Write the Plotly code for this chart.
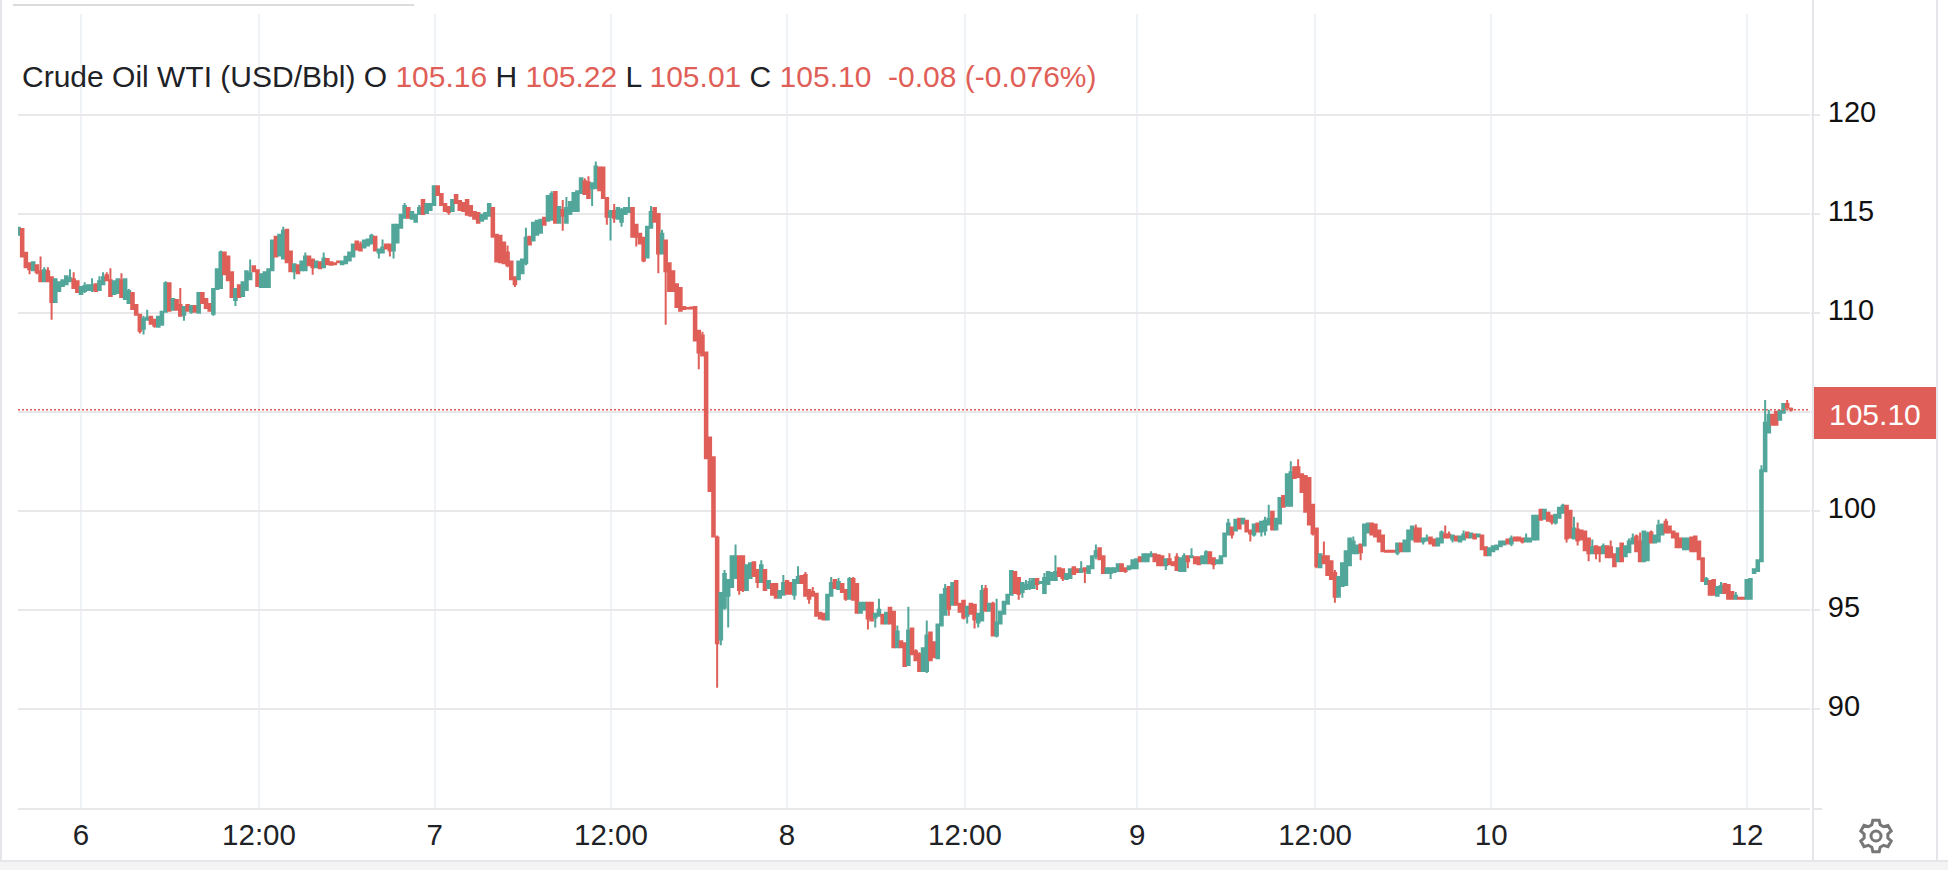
import math
import plotly.graph_objects as go

title_text = "Crude Oil WTI (USD/Bbl)"
last_open, last_high, last_low, last_close, last_chg, last_pct = "105.16", "105.22", "105.01", "105.10", "-0.08", "(-0.076%)"

opens = [
113.95,114.23,113.03,112.5,112.15,112.4,112.1,111.6,112.1,111.8,
110.55,111.1,111.35,111.45,111.6,111.7,111.6,110.95,111.1,111.15,
111.15,111.45,111.15,111.45,111.9,111.65,110.95,111,111.65,110.7,
110.5,111,110.4,109.9,109.2,109.65,109.8,109.65,109.3,109.4,
110.05,111.5,110.15,110.65,110.4,109.9,110.4,110.05,110.35,110,
111,110.7,110.45,109.95,111.2,111.25,113.05,112.85,112.05,110.65,
111.4,110.85,111.15,111.7,112.35,112.15,111.3,111.3,111.3,112.15,
113.85,112.9,112.75,114.2,113.1,112.1,112.4,112.15,112.15,112.85,
112.7,112.3,112.55,112.3,112.72,112.55,112.5,112.6,112.45,112.5,
112.65,112.85,113.6,113.45,113.3,113.4,113.5,113.85,113.05,113.05,
113.45,113.45,113.15,113.55,114.3,114.8,115.3,114.75,114.6,115,
115.7,115.05,115.2,115.45,116.4,116,115.5,115.35,115.15,115.95,
115.65,115.55,115.7,115.4,115.1,115.05,114.65,114.75,114.9,115.3,
113.95,113.9,113.55,113.05,112.6,111.8,111.7,112,112.5,113.85,
113.65,113.95,114.05,114.8,114.65,114.7,116.1,114.55,115.2,114.55,
115,115.15,115.15,116.05,116.65,116.6,116.3,116.3,117.35,117.35,
115.8,114.85,115.15,114.75,114.6,115,115.1,115.3,114.45,114,
113.8,112.8,114.3,115.3,115,113,113.65,112.5,112.1,111.45,
111.25,110.3,110.25,110.27,110.3,109.1,108.85,108,103.7,102.7,
98.65,93.5,95.1,95.7,96.15,96.6,97.7,97.7,96,96.6,
97.4,97,96.4,97,96.1,96.3,96.3,95.6,95.75,96.45,
96.35,95.75,96.35,96.7,96.75,96,95.9,95.8,94.85,94.8,
94.5,95.7,96.5,96.05,96.3,96,95.55,96.55,96.3,94.85,
95,95.35,95.35,94.6,94.7,94.75,94.3,95.1,94.9,93.1,
93.4,93.3,92.2,94.05,92.9,92.75,91.9,91.9,93.85,93.35,
92.55,94.2,94.75,96.15,95.25,96.45,95.3,95.45,94.7,95.3,
95.25,94.35,94.45,96.05,94.95,95.3,93.7,94.3,94.8,95.3,
95.75,96.9,96.6,95.9,96.05,96.1,96.1,96.55,96.35,95.85,
96.3,96.5,96.5,97.1,97.05,96.55,96.6,97.15,97.05,96.9,
97.1,96.85,97.1,97.7,98.1,97.7,96.85,96.85,96.9,96.95,
97.3,97.1,97.05,97.1,97.1,97.65,97.45,97.45,97.7,97.8,
97.75,97.7,97.25,97.55,97.4,97.65,96.95,96.95,97.7,97.65,
97.65,97.65,97.35,97.35,97.9,97.6,97.35,97.35,97.7,98.8,
99.15,99,99.6,99.35,99.5,99,98.8,99.35,98.95,99,
99.3,99.95,99.05,99.35,100.75,100.25,100.25,102.2,102.2,101.85,
101.75,101.65,100.3,99.1,97.15,97.7,97.7,97.45,96.85,95.65,
96.2,96.25,97.25,97.85,97.85,98.3,98.25,98.9,99.35,99.3,
99,98.75,97.98,97.98,97.98,97.88,98.35,97.95,97.95,98.55,
99.1,99.1,98.45,98.5,98.65,98.55,98.25,98.4,98.8,98.8,
98.55,98.7,98.45,98.55,98.9,98.65,98.8,98.7,98.75,98.15,
97.75,97.95,98.05,98.2,98.3,98.55,98.35,98.65,98.65,98.6,
98.45,98.45,98.55,98.55,100.05,99.6,99.9,99.75,99.4,99.65,
99.9,100.25,100,98.6,99.05,99,98.95,98.6,97.85,98.2,
98.15,97.85,98.2,98.15,97.8,97.45,98.35,97.7,97.9,98.35,
98.7,98.45,97.45,97.5,98.9,98.4,98.45,98.8,99.45,99.2,
98.95,98.85,98.6,98.05,98.05,98.65,98.7,98.45,97.6,96.3,
96.45,96.5,95.7,95.85,96.3,96.25,95.9,95.55,95.6,95.6,
95.55,95.55,96.85,96.95,97.45,102,103.95,104.85,105,104.6,104.95,105.4,105.16,
]

closes = [
114.3,112.85,112.3,112.2,112.55,112.05,111.6,112.15,111.6,110.55,
111.7,111.55,111.65,111.85,111.75,111.25,111.05,111.3,111.35,111.4,
111.4,111.1,111.6,111.8,111.65,110.85,111.6,111.7,110.8,111.7,
111.1,110.2,109.9,109.1,109.7,109.75,109.45,109.35,109.8,110.05,
111.5,110.1,110.7,110.15,109.85,110.3,110.1,110.35,110.05,111,
110.5,110.25,110.1,111.2,112.2,113.05,111.95,111.65,110.8,111.2,
110.8,111.55,112.1,112,112.1,111.35,111.95,112.05,112.2,113.65,
112.85,113.95,114.15,112.55,112.1,112.45,112,112.6,112.85,112.4,
112.3,112.6,112.25,112.75,112.45,112.43,112.45,112.55,112.6,112.83,
113.05,113.45,113.2,113.15,113.65,113.7,113.9,113.15,113.2,113.3,
113.25,113.15,114.45,114.45,114.95,115.4,114.8,115.1,114.95,115.3,
115,115.5,115.5,116.4,115.95,115.45,115.15,115.1,115.7,115.55,
115.2,115.15,114.95,114.9,114.75,114.55,114.95,115.05,115.5,113.85,
112.6,112.55,112.5,112.4,111.7,111.45,112.6,112.7,113.8,113.45,
114.55,114.65,114.7,114.45,115.9,116,114.55,115.35,114.9,115.3,
115.6,116.05,116.15,116.8,116,115.8,116.55,117.4,116.2,115.8,
114.85,115.15,114.8,115.3,115.2,115.3,115.3,113.85,113.85,113.5,
112.65,114.35,115.1,114.6,113,114,112.1,111.1,111.1,110.3,
110.1,110.2,110.22,110.22,108.6,108,107.85,102.65,101,98.7,
93.3,95.85,96.8,96.5,97.7,97.7,96,96,97.25,97.35,
96.7,96.4,97.25,96,96.45,95.75,95.6,95.95,96.35,95.8,
95.8,96.5,96.65,96.35,95.7,95.55,95.7,94.7,94.55,94.5,
95.75,96.35,96.1,96.4,95.9,95.55,96.55,95.5,94.85,95.35,
95.35,94.55,94.45,94.8,95,94.3,94.85,94.3,93.1,93.9,
93.1,92.15,93.95,92.75,92.45,91.9,93.05,93.7,92.45,92.6,
94.25,95.75,96.05,95.05,96.35,95.25,94.9,94.6,95.15,94.8,
94.5,94.8,95.95,94.95,95.3,93.7,94.35,94.9,95.4,95.75,
96.95,95.85,95.8,96.35,96.25,96.4,96.55,96.3,96.4,96.6,
96.9,96.85,96.9,96.7,96.6,96.8,97.05,96.8,96.9,97.05,
96.95,97.2,97.7,97.95,97.55,96.85,97.1,97.1,97.1,97.3,
96.95,96.95,97.2,97.5,97.55,97.45,97.8,97.8,97.8,97.45,
97.25,97.25,97.55,97.3,97.25,97,97.6,97.7,97.45,97.7,
97.35,97.3,97.7,97.9,97.35,97.3,97.5,97.7,98.85,99.35,
98.8,99.55,99.1,99.6,98.95,98.85,99.3,98.95,99.45,99.5,
99.6,99.05,99.6,100.65,100.2,101.85,101.95,101.65,101.7,100.95,
99.95,99.3,98.85,97.2,97.8,97.35,96.75,96.55,95.65,96.65,
97.35,97.95,98.6,98.45,98.25,97.9,99.3,99.35,98.8,98.7,
98.45,97.95,97.93,97.93,97.93,98.35,97.95,98.5,99,99.2,
98.45,98.45,98.6,98.6,98.35,98.25,98.6,98.9,98.65,98.65,
98.75,98.5,98.7,98.8,98.65,98.85,98.6,98.8,98.05,97.75,
98.1,98.2,98.25,98.45,98.45,98.35,98.6,98.5,98.5,98.45,
98.6,98.6,99.75,99.75,99.55,100.05,99.5,99.45,99.8,100.15,
100.25,98.6,98.65,99.1,98.5,98.55,98,97.85,98.15,97.85,
97.85,98.2,97.65,97.65,97.2,98.1,97.45,98.2,98.45,98.6,
97.95,97.45,98.95,98.85,98.4,98.75,99.25,99.3,98.9,98.9,
98.65,98.15,98.15,98.6,98.6,97.95,97.95,97.55,96.45,96.55,
95.75,95.75,96.15,96.2,95.85,95.55,95.55,95.7,95.55,95.55,
96.5,96.55,97.05,97.5,102.05,104.45,104.85,104.35,104.35,105.05,105.4,105.2,105.1,
]

highs = [
114.33,114.23,113.05,112.5,112.6,112.45,112.85,112.3,112.3,111.85,
111.75,111.6,111.7,111.9,112.2,112.05,111.65,111.35,111.55,111.45,
111.75,111.5,111.85,112.05,112.05,112.25,111.65,111.75,112,111.75,
111.2,111.05,110.45,109.95,109.85,110.15,109.85,109.7,109.85,110.1,
111.6,111.55,110.75,110.7,111.25,110.35,110.45,110.4,110.4,111.05,
111.05,110.75,110.5,111.25,112.25,113.15,113.1,112.9,112.1,111.25,
111.45,111.6,112.15,112.7,112.4,112.2,112,112.1,112.25,113.7,
113.9,114,114.35,114.25,113.15,112.5,112.45,112.65,113.05,112.9,
112.72,112.65,112.6,113.05,112.75,112.58,112.52,112.62,112.65,112.85,
113.1,113.5,113.65,113.6,113.7,113.75,114,113.9,113.25,113.7,
113.5,113.5,114.5,114.5,115,115.55,115.35,115.15,115,115.45,
115.7,115.55,115.55,116.45,116.42,116.05,115.55,115.4,115.75,116,
115.7,115.6,115.72,115.45,115.15,115.1,115,115.1,115.55,115.35,
114,113.95,113.6,113.4,112.65,111.85,112.65,112.75,114.3,113.9,
114.6,114.7,114.75,114.85,115.95,116.15,116.15,115.4,115.7,115.85,
115.65,116.1,116.2,116.85,116.8,116.9,116.6,117.65,117.4,117.4,
115.85,115.2,115.5,115.35,115.3,115.35,115.85,115.35,114.5,114.05,
113.85,114.4,115.4,115.35,115.05,114.2,113.7,112.55,112.15,111.5,
111.3,110.32,110.3,110.3,110.35,109.15,109.05,108.05,103.75,102.75,
98.75,95.9,97,96.55,97.75,98.3,97.75,97.7,97.3,97.4,
97.45,97.05,97.5,97.05,96.5,96.35,96.35,96,96.75,96.5,
96.4,96.55,97.2,96.75,96.9,96.05,96.15,95.85,94.9,94.85,
95.8,96.65,96.55,96.6,96.35,96.05,96.65,96.65,96.35,95.4,
95.4,95.4,95.4,94.85,95.55,94.8,94.9,95.15,94.95,94.2,
93.45,93.35,95.15,94.1,93,92.85,93.1,94.45,93.9,93.4,
94.3,95.8,96.3,96.2,96.4,96.5,95.35,95.5,95.2,95.35,
95.3,94.85,96.25,96.25,95.35,95.4,95.55,94.95,95.45,95.8,
97,96.95,96.65,96.4,96.5,96.6,96.6,96.6,96.42,96.85,
96.95,96.9,97.75,97.15,97.1,96.85,97.1,97.2,97.1,97.45,
97.15,97.25,97.75,98.3,98.15,97.75,97.15,97.15,97.15,97.35,
97.35,97.15,97.25,97.55,97.6,97.7,97.85,97.85,97.95,97.85,
97.8,97.75,97.6,97.85,97.45,97.85,97.65,97.85,97.75,98.1,
97.7,97.7,97.75,98,97.95,97.65,97.55,97.75,98.9,99.6,
99.2,99.6,99.65,99.65,99.55,99.05,99.35,99.4,99.5,99.7,
100.3,99.95,99.65,100.7,100.8,101.9,102.5,102.25,102.6,101.9,
101.8,101.7,100.35,99.15,97.85,98.45,97.75,97.5,97,96.7,
97.4,98,98.65,98.7,98.3,98.35,99.35,99.4,99.4,99.35,
99.05,98.8,98,98,98,98.4,98.4,98.55,99.05,99.25,
99.3,99.15,98.65,98.8,98.7,98.6,98.65,99,99.25,98.95,
98.8,98.75,98.75,99,98.95,98.9,98.85,98.85,98.8,98.2,
98.15,98.25,98.3,98.5,98.5,98.6,98.75,98.7,98.7,98.65,
98.85,98.65,99.8,99.8,100.1,100.1,99.95,99.8,99.85,100.2,
100.35,100.3,100.05,99.7,99.4,99.05,99,98.65,98.55,98.25,
98.2,98.35,98.25,98.5,97.85,98.15,98.4,98.25,98.6,98.85,
98.8,98.9,99,98.95,99,98.8,99.55,99.35,99.6,99.25,
99,98.9,98.65,98.65,98.65,98.7,98.75,98.5,97.65,96.65,
96.5,96.55,96.2,96.4,96.35,96.3,95.95,95.9,95.63,95.63,
96.55,96.6,97.1,97.55,102.3,105.6,105.1,104.9,105.05,105.1,105.45,105.6,105.22,
]

lows = [
113.93,112.8,112.25,111.95,112.1,111.95,111.55,111.55,111.55,109.65,
110.5,111.05,111.3,111.4,111.55,111.2,111,110.95,111,111.1,
111.05,111.05,111.1,111.4,111.6,110.8,110.9,110.95,110.75,110.65,
110.45,110.15,109.85,108.95,108.9,109.6,109.4,109.25,109.25,109.35,
110,110.05,110.1,110.1,109.8,109.6,110.05,109.95,110,109.95,
110.45,110.2,110.05,109.85,111.15,111.2,111.9,111.6,110.75,110.35,
110.75,110.8,111.1,111.65,112.05,111.3,111.25,111.25,111.25,112.1,
112.8,112.85,112.7,112.5,112.05,111.7,111.95,112.1,112.1,112.35,
111.93,112.25,112.2,112.25,112.4,112.4,112.42,112.52,112.42,112.45,
112.6,112.8,113.15,113.1,113.25,113.35,113.45,113.1,112.75,113,
113.2,112.85,112.75,113.5,114.25,114.75,114.75,114.7,114.55,114.95,
114.95,115,115.15,115.4,115.9,115.4,115.1,114.95,115.1,115.5,
115.15,115.1,114.9,114.85,114.7,114.5,114.6,114.7,114.85,113.8,
112.55,112.5,112.45,112.3,111.65,111.3,111.65,111.95,112.4,113.4,
113.6,113.9,114,114.4,114.6,114.65,114.5,114.5,114.15,114.5,
114.95,115.1,115.1,116,115.95,115.75,115.4,116.25,116.15,115.75,
114.45,113.65,114.55,114.7,114.35,114.95,115.05,113.8,113.35,113.45,
112.55,112.75,114.25,114.55,112,112.95,109.4,111.05,111.05,110.25,
110.05,110.18,110.2,110.2,108.55,107.15,107.8,102.6,100.95,98.65,
91.05,93.2,95,94.1,96.1,96.55,95.75,95.9,95.95,96.55,
96.65,96.1,96.35,95.95,96.05,95.7,95.55,95.55,95.7,95.75,
95.75,95.5,96.3,96.3,95.65,95.3,95.65,94.65,94.5,94.45,
94.45,95.65,96.05,96,95.85,95.45,95.5,95.45,94.8,94.8,
94.95,94,94.4,94.1,94.65,94.25,94.25,94.25,93.05,93.05,
93.05,92.1,92.15,92.7,92.4,91.85,91.85,91.8,92.4,92.55,
92.5,94.15,94.7,94.7,95.2,95.2,94.85,94.5,94.3,94.75,
94.05,94.1,94.4,94.9,94.9,93.65,93.6,94.25,94.75,95.25,
95.7,95.8,95.5,95.6,96,96,96.05,96,96.33,95.8,
96.25,96.45,96.45,96.65,96.45,96.5,96.55,96.75,96.85,96.85,
96.35,96.8,97.05,97.55,97.5,96.8,96.8,96.55,96.85,96.9,
96.9,96.85,97,97.05,97.05,97.4,97.4,97.4,97.65,97.4,
97.2,97.2,97,97.25,97.2,96.95,96.9,96.9,97.1,97.6,
97.3,97.25,97.3,97.3,97.3,97.05,97.3,97.3,97.65,98.75,
98.6,98.95,99.05,99.3,98.9,98.45,98.7,98.9,98.7,98.75,
99.25,99,99,99.3,100.15,100.2,100.2,101.6,101.65,100.9,
99.9,99.25,98.75,97.1,97.1,97.3,96.7,96.5,95.35,95.6,
96.15,96.2,97.2,97.8,97.8,97.5,98.2,98.85,98.75,98.65,
98.4,97.9,97.9,97.9,97.9,97.75,97.9,97.9,97.9,98.5,
98.4,98.4,98.3,98.45,98.3,98.2,98.2,98.35,98.6,98.6,
98.4,98.45,98.4,98.5,98.6,98.6,98.55,98.65,98,97.7,
97.7,97.9,98,98.15,98.25,98.3,98.2,98.45,98.45,98.35,
98.4,98.4,98.5,98.5,99.5,99.55,99.45,99.3,99.3,99.6,
99.85,98.4,98.6,98.55,98.25,98.5,97.95,97.45,97.8,97.55,
97.4,97.8,97.6,97.6,97.15,97.4,97.4,97.65,97.85,98.3,
97.9,97.4,97.4,97.45,98.35,98.35,98.4,98.75,98.85,98.85,
98.6,98.1,98.1,98,98,97.9,97.9,97.5,96.4,96.25,
95.7,95.7,95.65,95.8,95.8,95.5,95.5,95.5,95.5,95.5,
95.5,95.5,96.8,96.9,97.4,101.95,103.9,104.3,104.3,104.55,104.9,105.15,105.01,
]

bar_index = list(range(len(closes)))

x_tick_positions = [17, 65.4, 113.2, 161.1, 209, 257.4, 304.2, 352.6, 400.5, 470.1]
x_tick_labels = ["6", "12:00", "7", "12:00", "8", "12:00", "9", "12:00", "10", "12"]
y_ticks = [90, 95, 100, 105, 110, 115, 120]
y_tick_labels = ["90", "95", "100", "", "110", "115", "120"]

RED = "#DF5F58"
GREEN = "#52A69A"
GRID_H = "#E8E8EA"
GRID_V = "#F0F3F6"
BORDER = "#E6E6EA"
TEXT = "#1E2226"

W, H = 1948, 870
L, R, T, B = 18, 1810, 14, 808


def xp(px):
    return (px - L) / (R - L)


def yp(py):
    return (B - py) / (B - T)


def rect(x0, y0, x1, y1, fill, layer="above"):
    return dict(type="rect", xref="paper", yref="paper", x0=xp(x0), x1=xp(x1), y0=yp(y0), y1=yp(y1),
                fillcolor=fill, line=dict(width=0), layer=layer)


def gear_path(cx, cy, r_out, r_in, teeth=6):
    pts = []
    step = 2 * math.pi / teeth
    for k in range(teeth):
        a = -math.pi / 2 + k * step
        for da, r in ((-0.36, r_in), (-0.2, r_out), (0.2, r_out), (0.36, r_in)):
            pts.append((cx + r * math.cos(a + da), cy + r * math.sin(a + da)))
    return "M " + " L ".join(f"{xp(px):.5f},{yp(py):.5f}" for px, py in pts) + " Z"


def circle_shape(cx, cy, r, color, width):
    return dict(type="circle", xref="paper", yref="paper", x0=xp(cx - r), x1=xp(cx + r), y0=yp(cy + r), y1=yp(cy - r),
                line=dict(color=color, width=width), layer="above")


fig = go.Figure(go.Candlestick(
    x=bar_index, open=opens, high=highs, low=lows, close=closes,
    increasing=dict(line=dict(color=GREEN, width=2), fillcolor=GREEN),
    decreasing=dict(line=dict(color=RED, width=2), fillcolor=RED),
    whiskerwidth=0, hoverinfo="skip", showlegend=False,
))

shapes = [
    rect(18, 44, 1110, 100, "#FFFFFF", layer="between"),
    rect(0, 0, 2, H, BORDER),
    rect(13, 4, 414, 6, "#DCDCDE"),
    rect(0, 860, W, H, "#F4F4F5"),
    rect(0, 860, W, 862, BORDER),
    rect(1812, 0, 1814, 860, BORDER),
    rect(1813, 808, 1822, 810, BORDER),
    rect(1936, 0, 1938, 860, BORDER),
    rect(1814, 387, 1936, 439, RED),
    dict(type="line", xref="paper", yref="y", x0=0, x1=1, y0=closes[-1], y1=closes[-1],
         line=dict(color=RED, width=1.5, dash="2px,2px"), layer="above"),
    dict(type="path", xref="paper", yref="paper", path=gear_path(1876, 836, 16, 12),
         line=dict(color="#777777", width=3), layer="above"),
    circle_shape(1876, 836, 5, "#777777", 3),
]

legend_html = (
    f"{title_text} O <span style='color:{RED}'>{last_open}</span> "
    f"H <span style='color:{RED}'>{last_high}</span> "
    f"L <span style='color:{RED}'>{last_low}</span> "
    f"C <span style='color:{RED}'>{last_close}</span>&nbsp;&nbsp;"
    f"<span style='color:{RED}'>{last_chg} {last_pct}</span>"
)

annotations = [
    dict(xref="paper", yref="paper", x=xp(20), y=yp(76), xanchor="left", yanchor="middle",
         text=legend_html, showarrow=False, font=dict(family="Liberation Sans", size=30, color=TEXT)),
    dict(xref="paper", yref="paper", x=xp(1875), y=yp(414), xanchor="center", yanchor="middle",
         text=last_close, showarrow=False, font=dict(family="Liberation Sans", size=30, color="#FFFFFF")),
]

fig.update_layout(
    width=W, height=H, autosize=False,
    margin=dict(l=L, r=W - R, t=T, b=H - B, pad=0),
    paper_bgcolor="#FFFFFF", plot_bgcolor="#FFFFFF",
    boxgap=0, showlegend=False, hovermode=False,
    font=dict(family="Liberation Sans", color=TEXT),
    shapes=shapes, annotations=annotations,
    xaxis=dict(
        type="linear", range=[-0.136, 487.2], rangeslider=dict(visible=False),
        tickmode="array", tickvals=x_tick_positions, ticktext=x_tick_labels,
        tickfont=dict(size=29.5, color=TEXT), ticks="", showgrid=True, gridcolor=GRID_V, gridwidth=2,
        zeroline=False, showline=True, linecolor=GRID_H, linewidth=2,
    ),
    yaxis=dict(
        side="right", range=[84.98, 125.1], tickmode="array", tickvals=y_ticks, ticktext=y_tick_labels,
        tickfont=dict(size=29, color="#111111"), ticks="outside", ticklen=9, tickwidth=2, tickcolor=GRID_H,
        ticklabelstandoff=2, ticklabelshift=-3,
        showgrid=True, gridcolor=GRID_H, gridwidth=2, zeroline=False, showline=False,
    ),
)

fig.write_html(
    "out.html",
    config={"displayModeBar": False, "staticPlot": True},
    post_script="document.body.style.margin='0';document.body.style.overflow='hidden';",
)
